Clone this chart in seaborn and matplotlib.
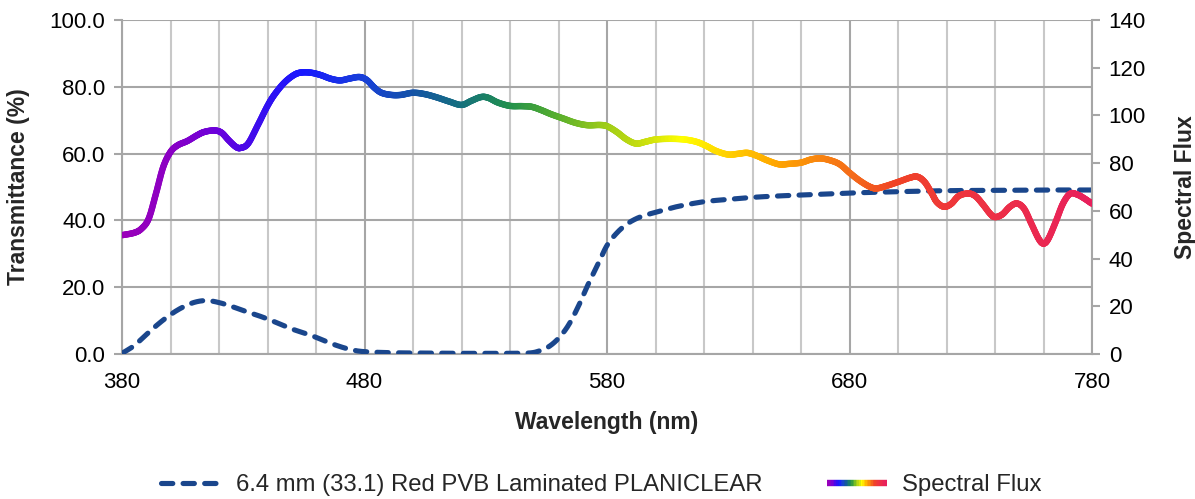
import numpy as np
import pandas as pd
import matplotlib
matplotlib.use("Agg")
import matplotlib.pyplot as plt
import seaborn as sns
from matplotlib.collections import LineCollection
from matplotlib.legend_handler import HandlerBase
from matplotlib.lines import Line2D
from matplotlib.colors import LinearSegmentedColormap

# ---------------- data ----------------
trans_wl = [380, 385, 390, 395, 400, 405, 410, 415, 420, 425, 430, 435, 440, 445, 450,
            455, 460, 465, 470, 475, 480, 490, 500, 520, 540, 548, 552, 556, 560, 564,
            568, 572, 576, 580, 584, 588, 592, 596, 600, 605, 610, 620, 630, 640, 650,
            660, 670, 680, 700, 720, 740, 760, 780]
trans_val = [0.2, 2.5, 5.8, 9.0, 11.8, 14.0, 15.5, 16.0, 15.4, 14.3, 13.0, 11.8, 10.5, 9.0, 7.5,
             6.3, 5.0, 3.5, 2.2, 1.2, 0.7, 0.4, 0.3, 0.2, 0.2, 0.3, 0.9, 2.2, 4.7, 8.5,
             14.0, 20.5, 26.5, 32.5, 36.2, 38.8, 40.5, 41.6, 42.4, 43.4, 44.3, 45.6, 46.3, 46.9, 47.3,
             47.6, 47.9, 48.2, 48.6, 48.9, 49.0, 49.1, 49.1]

flux_wl = [380, 385, 388, 391, 394, 397, 400, 403, 407, 411, 414, 418, 421, 424, 427, 429,
           432, 436, 440, 443, 447, 451, 454, 458, 462, 466, 470, 474, 478, 481, 484, 487,
           491, 495, 500, 505, 510, 515, 520, 524, 528, 531, 535, 540, 545, 549, 553, 557,
           562, 567, 572, 577, 580, 584, 588, 592, 596, 600, 606, 612, 617, 621, 625, 630,
           634, 638, 642, 646, 651, 655, 660, 664, 668, 672, 676, 680, 684, 688, 691, 695,
           700, 705, 708, 711, 714, 716, 719, 722, 725, 729, 732, 735, 738, 740, 743, 746,
           749, 752, 755, 758, 760, 762, 765, 768, 771, 774, 777, 780]
flux_val = [49.8, 50.8, 52.5, 56.7, 67.2, 78.4, 84.7, 87.5, 89.3, 91.7, 93.1, 93.7, 92.8, 89.6, 86.8, 86.4,
            88.2, 95.9, 104.0, 108.9, 113.8, 117.0, 118.0, 117.9, 116.9, 115.4, 114.7, 115.5, 116.1, 114.8, 111.7, 109.5,
            108.6, 108.6, 109.5, 108.9, 107.5, 105.8, 104.4, 106.1, 107.7, 107.4, 105.4, 104.0, 103.9, 103.6, 102.2, 100.5,
            98.7, 96.9, 95.9, 96.0, 95.5, 93.1, 90.0, 88.2, 89.0, 89.9, 90.2, 89.9, 88.9, 87.2, 85.1, 83.6,
            83.9, 84.3, 83.0, 81.2, 79.5, 79.7, 80.2, 81.5, 82.0, 81.2, 79.5, 76.0, 72.8, 70.3, 69.4, 70.4,
            72.1, 73.9, 74.3, 72.1, 67.2, 63.7, 61.7, 63.0, 66.2, 67.3, 66.1, 62.7, 58.8, 57.4, 58.5, 61.6,
            63.1, 60.9, 54.6, 48.3, 46.3, 48.3, 55.3, 63.0, 67.2, 66.8, 65.1, 63.0]

x_ticks = [380, 480, 580, 680, 780]
left_ticks = [0, 20, 40, 60, 80, 100]
right_ticks = [0, 20, 40, 60, 80, 100, 120, 140]

trans_label = "6.4 mm (33.1) Red PVB Laminated PLANICLEAR"
flux_label = "Spectral Flux"

# ---------------- style ----------------
sns.set_theme(style="white")
plt.rcParams["font.family"] = ["Liberation Sans", "DejaVu Sans"]

spec_stops = [
    (380, "#9B00B9"), (400, "#8A00C4"), (420, "#6A00DC"), (440, "#3010F2"),
    (455, "#1818FF"), (480, "#1840D8"), (500, "#1452A8"), (520, "#15707F"),
    (540, "#21904E"), (560, "#56AE2E"), (580, "#9ECC18"), (600, "#D4E40C"),
    (612, "#FFFF00"), (630, "#FFD200"), (650, "#FFA800"), (680, "#F57018"),
    (700, "#F04426"), (730, "#EE3440"), (780, "#E8205C"),
]
cmap = LinearSegmentedColormap.from_list(
    "spec", [((w - 380) / 400, c) for w, c in spec_stops])


def smooth_path(x, y, n=12):
    """Catmull-Rom rendering of the polyline (like a 'smoothed line')."""
    x = np.asarray(x, float)
    y = np.asarray(y, float)
    px = np.concatenate([[2 * x[0] - x[1]], x, [2 * x[-1] - x[-2]]])
    py = np.concatenate([[2 * y[0] - y[1]], y, [2 * y[-1] - y[-2]]])
    t = np.linspace(0, 1, n, endpoint=False)
    xs, ys = [], []
    for i in range(1, len(px) - 2):
        for arr, out in ((px, xs), (py, ys)):
            p0, p1, p2, p3 = arr[i - 1], arr[i], arr[i + 1], arr[i + 2]
            out.append(0.5 * ((2 * p1) + (-p0 + p2) * t +
                              (2 * p0 - 5 * p1 + 4 * p2 - p3) * t ** 2 +
                              (-p0 + 3 * p1 - 3 * p2 + p3) * t ** 3))
    xs.append([x[-1]])
    ys.append([y[-1]])
    return np.concatenate(xs), np.concatenate(ys)


DASH_COLOR = "#1A468C"
GRID_MINOR = "#C8C8C8"
GRID_MAJOR = "#A6A6A6"
TICK_FS = 16
LABEL_FS = 16.5
DASH_LW = 3.7
DASHES = [2.2, 2.0]
FLUX_LW = 4.6

fig = plt.figure(figsize=(11.95, 4.99), dpi=100)
ax = fig.add_axes([122 / 1195, 1 - 354 / 499, (1092 - 122) / 1195, (354 - 20) / 499])

sx, sy = smooth_path(trans_wl, trans_val)
df_t = pd.DataFrame({"wl": sx, "val": sy})
sns.lineplot(data=df_t, x="wl", y="val", ax=ax, color=DASH_COLOR, lw=DASH_LW,
             legend=False, zorder=4, sort=False, estimator=None)
tline = ax.get_lines()[-1]
tline.set_dashes(DASHES)
tline.set_dash_capstyle("round")

ax.set_xlim(380, 780)
ax.set_ylim(0, 100)
ax.set_xticks(x_ticks)
ax.set_xticks(np.arange(380, 781, 20), minor=True)
ax.set_yticks(left_ticks)
ax.set_yticklabels([f"{v:.1f}" for v in left_ticks])
ax.grid(which="minor", axis="x", color=GRID_MINOR, lw=1.5, zorder=0)
ax.grid(which="major", axis="x", color=GRID_MAJOR, lw=1.5, zorder=0)
ax.grid(which="major", axis="y", color=GRID_MAJOR, lw=1.5, zorder=0)
ax.set_axisbelow(True)
for s in ["top", "right"]:
    ax.spines[s].set_visible(False)
for s in ["left", "bottom"]:
    ax.spines[s].set_color(GRID_MAJOR)
    ax.spines[s].set_linewidth(1.5)
ax.tick_params(axis="both", which="major", labelsize=TICK_FS, colors="black",
               length=6, width=1.5, direction="out")
ax.tick_params(axis="x", which="minor", length=0)
ax.tick_params(axis="x", which="major", color=GRID_MAJOR, pad=7)
ax.tick_params(axis="y", which="major", color=GRID_MAJOR, pad=6)
ax.set_xlabel("Wavelength (nm)", fontsize=LABEL_FS, fontweight="bold", labelpad=13)
ax.set_ylabel("Transmittance (%)", fontsize=LABEL_FS, fontweight="bold", labelpad=14)

ax2 = ax.twinx()
ax2.set_ylim(0, 140)
ax2.set_yticks(right_ticks)
for s in ["top", "left", "bottom"]:
    ax2.spines[s].set_visible(False)
ax2.spines["right"].set_color(GRID_MAJOR)
ax2.spines["right"].set_linewidth(1.5)
ax2.tick_params(axis="y", labelsize=TICK_FS, length=6, width=1.5, color=GRID_MAJOR,
                labelcolor="black", pad=6)
ax2.set_ylabel("Spectral Flux", fontsize=LABEL_FS, fontweight="bold", labelpad=20)

fx, fy = smooth_path(flux_wl, flux_val)
pts = np.column_stack([fx, fy]).reshape(-1, 1, 2)
segs = np.concatenate([pts[:-1], pts[1:]], axis=1)
mids = (fx[:-1] + fx[1:]) / 2
lc = LineCollection(segs, colors=cmap((mids - 380) / 400), linewidths=FLUX_LW,
                    capstyle="round", joinstyle="round", zorder=3)
ax2.add_collection(lc)
ax2.set_xlim(380, 780)


class GradientHandler(HandlerBase):
    def create_artists(self, legend, orig_handle, xdescent, ydescent, width, height,
                       fontsize, trans):
        n = 40
        xs = np.linspace(-xdescent, width - xdescent, n)
        ys = np.full(n, height / 2 - ydescent)
        p = np.column_stack([xs, ys]).reshape(-1, 1, 2)
        s = np.concatenate([p[:-1], p[1:]], axis=1)
        c = cmap(np.linspace(0, 1, n - 1))
        coll = LineCollection(s, colors=c, linewidths=FLUX_LW, capstyle="butt",
                              transform=trans)
        return [coll]


h1 = Line2D([], [], color=DASH_COLOR, lw=DASH_LW, dashes=DASHES,
            dash_capstyle="round")
h2 = LineCollection([])
fig.legend([h1, h2], [trans_label, flux_label], loc="center",
           bbox_to_anchor=(0.503, 1 - 485 / 499), ncol=2, frameon=False, fontsize=17.2,
           handlelength=2.5, columnspacing=2.7, handletextpad=0.65,
           handler_map={LineCollection: GradientHandler()})

fig.savefig("out.png", dpi=100)
